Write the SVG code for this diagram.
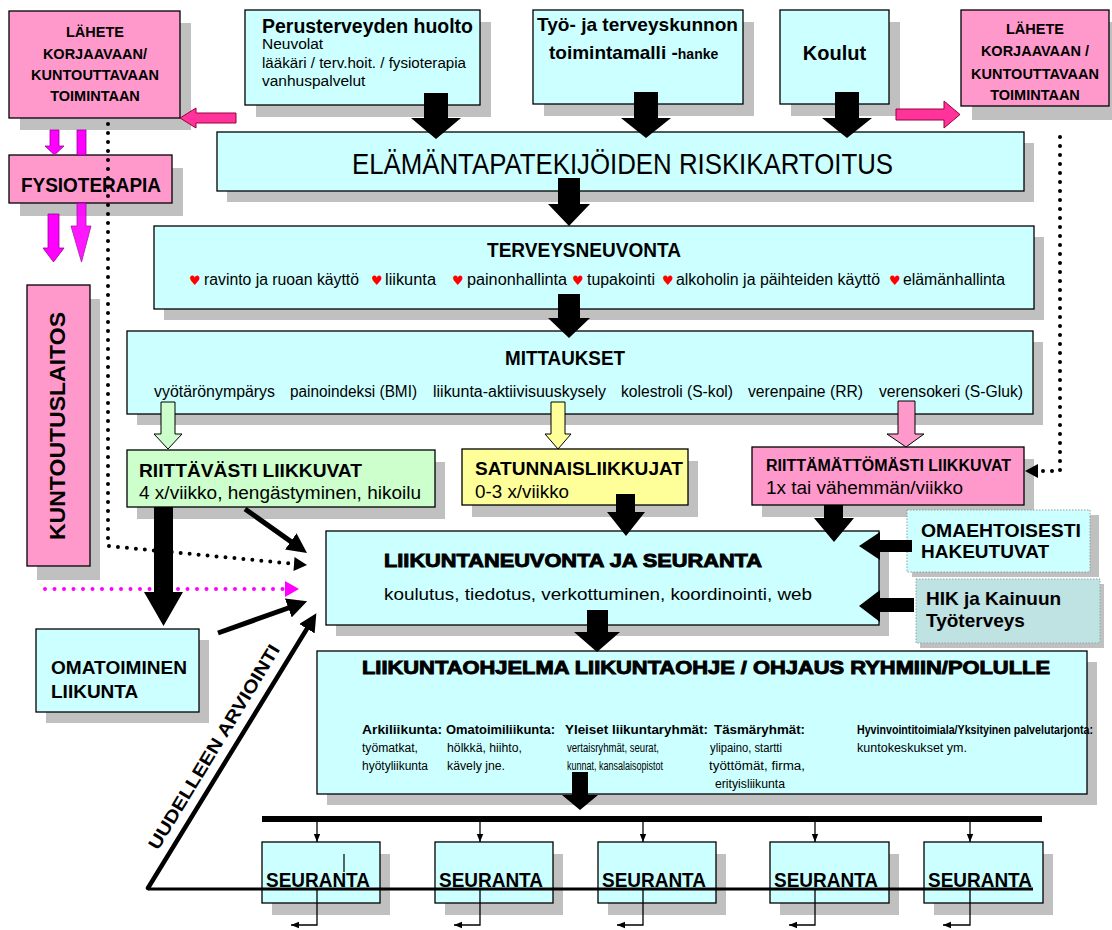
<svg xmlns="http://www.w3.org/2000/svg" width="1112" height="930" viewBox="0 0 1112 930">
<style>
text{font-family:"Liberation Sans",Arial,Helvetica,sans-serif;fill:#000}
.b{font-weight:bold}
.hv{font-weight:bold;stroke:#000;stroke-width:0.9}
.sh{fill:#c0c0c0}
.cy{fill:#ccffff;stroke:#000;stroke-width:1.3}
.pk{fill:#ff99cc;stroke:#000;stroke-width:1.3}
.gr{fill:#ccffcc;stroke:#000;stroke-width:1.3}
.ye{fill:#ffff99;stroke:#000;stroke-width:1.3}
.blk{fill:#000}
.hp{fill:#ff3399;stroke:#99003d;stroke-width:1}
.mg{fill:#ff00ff;stroke:#990099;stroke-width:0.8}
.ga{fill:#ccffcc;stroke:#000;stroke-width:1}
.ya{fill:#ffff99;stroke:#000;stroke-width:1}
.pa{fill:#ff99cc;stroke:#000;stroke-width:1}
.dot{fill:none;stroke:#000;stroke-width:4;stroke-linecap:round;stroke-dasharray:0 9}
.dotm{fill:none;stroke:#ff00ff;stroke-width:4;stroke-linecap:round;stroke-dasharray:0 9.5}
.ht{fill:#ff0000;font-family:"DejaVu Sans",sans-serif;font-size:13px}
.thin{fill:none;stroke:#000;stroke-width:1.3}
</style>
<defs>
<marker id="bh" viewBox="0 0 10 10" refX="6" refY="5" markerWidth="4" markerHeight="4" orient="auto" markerUnits="strokeWidth"><path d="M0,0 L10,5 L0,10 z" fill="#000"/></marker>
<marker id="sm" viewBox="0 0 10 10" refX="10" refY="5" markerWidth="8" markerHeight="8" orient="auto" markerUnits="userSpaceOnUse"><path d="M0,1 L10,5 L0,9 z" fill="#000"/></marker>
</defs>

<!-- nodes -->
<g id="lahete-left">
<rect class="sh" x="20" y="23" width="171" height="107"/>
<rect class="pk" x="9" y="11" width="171" height="107"/>
<text class="b" font-size="14.5" text-anchor="middle"><tspan x="95" y="37">LÄHETE</tspan><tspan x="95" y="59">KORJAAVAAN/</tspan><tspan x="95" y="80">KUNTOUTTAVAAN</tspan><tspan x="95" y="101">TOIMINTAAN</tspan></text>
</g>
<g id="perusterveys">
<rect class="sh" x="256" y="22" width="235" height="95"/>
<rect class="cy" x="245" y="10" width="235" height="95"/>
<text class="b" font-size="20" x="262" y="33" textLength="211" lengthAdjust="spacingAndGlyphs">Perusterveyden huolto</text>
<text font-size="15.5" x="262" y="49">Neuvolat</text>
<text font-size="15.5" x="262" y="68" textLength="204" lengthAdjust="spacingAndGlyphs">lääkäri / terv.hoit. / fysioterapia</text>
<text font-size="15.5" x="262" y="86">vanhuspalvelut</text>
</g>
<g id="tyo-hanke">
<rect class="sh" x="544" y="22" width="210" height="94"/>
<rect class="cy" x="533" y="10" width="210" height="94"/>
<text class="b" font-size="19" x="537" y="31" textLength="201" lengthAdjust="spacingAndGlyphs">Työ- ja terveyskunnon</text>
<text class="b" font-size="19" x="549" y="59">toimintamalli -<tspan font-size="14">hanke</tspan></text>
</g>
<g id="koulut">
<rect class="sh" x="791" y="22" width="109" height="94"/>
<rect class="cy" x="780" y="10" width="109" height="94"/>
<text class="b" font-size="20" x="834.5" y="60" text-anchor="middle">Koulut</text>
</g>
<g id="lahete-right">
<rect class="sh" x="972" y="22" width="148" height="98"/>
<rect class="pk" x="961" y="10" width="148" height="96"/>
<text class="b" font-size="14.5" text-anchor="middle"><tspan x="1035" y="34">LÄHETE</tspan><tspan x="1035" y="56">KORJAAVAAN /</tspan><tspan x="1035" y="79">KUNTOUTTAVAAN</tspan><tspan x="1035" y="100">TOIMINTAAN</tspan></text>
</g>
<g id="fysioterapia">
<rect class="sh" x="20" y="168" width="163" height="48"/>
<rect class="pk" x="9" y="155" width="163" height="48"/>
<text class="b" font-size="21" x="21" y="192" textLength="140" lengthAdjust="spacingAndGlyphs">FYSIOTERAPIA</text>
</g>
<g id="kuntoutuslaitos">
<rect class="sh" x="37" y="299" width="63" height="281"/>
<rect class="pk" x="27" y="285" width="63" height="281"/>
<text class="b" font-size="22" transform="translate(65,540) rotate(-90)" x="0" y="0" textLength="228" lengthAdjust="spacingAndGlyphs">KUNTOUTUSLAITOS</text>
</g>
<g id="riskikartoitus">
<rect class="sh" x="227" y="143" width="807" height="59"/>
<rect class="cy" x="217" y="132" width="807" height="59"/>
<text font-size="30" x="352" y="174" textLength="541" lengthAdjust="spacingAndGlyphs">ELÄMÄNTAPATEKIJÖIDEN RISKIKARTOITUS</text>
</g>
<g id="terveysneuvonta">
<rect class="sh" x="164" y="237" width="880" height="83"/>
<rect class="cy" x="154" y="226" width="880" height="83"/>
<text class="b" font-size="20" x="487" y="257" textLength="194" lengthAdjust="spacingAndGlyphs">TERVEYSNEUVONTA</text>
<text class="ht" x="189" y="285">♥</text>
<text font-size="16" x="204" y="285" textLength="155" lengthAdjust="spacingAndGlyphs">ravinto ja ruoan käyttö</text>
<text class="ht" x="371" y="285">♥</text>
<text font-size="16" x="385" y="285" textLength="51" lengthAdjust="spacingAndGlyphs">liikunta</text>
<text class="ht" x="452" y="285">♥</text>
<text font-size="16" x="467" y="285" textLength="100" lengthAdjust="spacingAndGlyphs">painonhallinta</text>
<text class="ht" x="572" y="285">♥</text>
<text font-size="16" x="587" y="285" textLength="68" lengthAdjust="spacingAndGlyphs">tupakointi</text>
<text class="ht" x="662" y="285">♥</text>
<text font-size="16" x="676" y="285" textLength="204" lengthAdjust="spacingAndGlyphs">alkoholin ja päihteiden käyttö</text>
<text class="ht" x="889" y="285">♥</text>
<text font-size="16" x="903" y="285" textLength="102" lengthAdjust="spacingAndGlyphs">elämänhallinta</text>
</g>
<g id="mittaukset">
<rect class="sh" x="137" y="342" width="906" height="83"/>
<rect class="cy" x="127" y="331" width="906" height="83"/>
<text class="b" font-size="20" x="505" y="365" textLength="120" lengthAdjust="spacingAndGlyphs">MITTAUKSET</text>
<text font-size="16" x="154" y="397" textLength="121" lengthAdjust="spacingAndGlyphs">vyötärönympärys</text>
<text font-size="16" x="290" y="397" textLength="127" lengthAdjust="spacingAndGlyphs">painoindeksi (BMI)</text>
<text font-size="16" x="433" y="397" textLength="173" lengthAdjust="spacingAndGlyphs">liikunta-aktiivisuuskysely</text>
<text font-size="16" x="621" y="397" textLength="112" lengthAdjust="spacingAndGlyphs">kolestroli (S-kol)</text>
<text font-size="16" x="748" y="397" textLength="115" lengthAdjust="spacingAndGlyphs">verenpaine (RR)</text>
<text font-size="16" x="879" y="397" textLength="144" lengthAdjust="spacingAndGlyphs">verensokeri (S-Gluk)</text>
</g>
<g id="riittavasti">
<rect class="sh" x="137" y="462" width="308" height="57"/>
<rect class="gr" x="127" y="450" width="308" height="57"/>
<text class="b" font-size="19" x="139" y="477" textLength="223" lengthAdjust="spacingAndGlyphs">RIITTÄVÄSTI LIIKKUVAT</text>
<text font-size="18" x="139" y="499" textLength="282" lengthAdjust="spacingAndGlyphs">4 x/viikko, hengästyminen, hikoilu</text>
</g>
<g id="satunnais">
<rect class="sh" x="472" y="461" width="226" height="56"/>
<rect class="ye" x="462" y="449" width="226" height="56"/>
<text class="b" font-size="19" x="475" y="475" textLength="208" lengthAdjust="spacingAndGlyphs">SATUNNAISLIIKKUJAT</text>
<text font-size="18" x="475" y="498" textLength="94" lengthAdjust="spacingAndGlyphs">0-3 x/viikko</text>
</g>
<g id="riittamattomasti">
<rect class="sh" x="762" y="459" width="272" height="58"/>
<rect class="pk" x="752" y="447" width="272" height="58"/>
<text class="b" font-size="16" x="766" y="471" textLength="245" lengthAdjust="spacingAndGlyphs">RIITTÄMÄTTÖMÄSTI LIIKKUVAT</text>
<text font-size="18" x="766" y="494" textLength="197" lengthAdjust="spacingAndGlyphs">1x tai  vähemmän/viikko</text>
</g>
<g id="liikuntaneuvonta">
<rect class="sh" x="336" y="542" width="553" height="94"/>
<rect class="cy" x="326" y="531" width="553" height="94"/>
<text class="hv" font-size="19" x="384" y="567" textLength="378" lengthAdjust="spacingAndGlyphs">LIIKUNTANEUVONTA JA SEURANTA</text>
<text font-size="17" x="384" y="600" textLength="428" lengthAdjust="spacingAndGlyphs">koulutus, tiedotus, verkottuminen, koordinointi, web</text>
</g>
<g id="omaehtoisesti">
<rect class="sh" x="912" y="515" width="187" height="62"/>
<rect x="907" y="510" width="183" height="62" fill="#ccffff" stroke="#999" stroke-width="1" stroke-dasharray="1.5 1.5"/>
<text class="b" font-size="19" x="921" y="537" textLength="160" lengthAdjust="spacingAndGlyphs">OMAEHTOISESTI</text>
<text class="b" font-size="19" x="921" y="558">HAKEUTUVAT</text>
</g>
<g id="hik">
<rect class="sh" x="920" y="584" width="184" height="64"/>
<rect x="916" y="579" width="184" height="64" fill="#bfe2e2" stroke="#88aaaa" stroke-width="1" stroke-dasharray="1.5 1.5"/>
<text class="b" font-size="19" x="926" y="605">HIK ja Kainuun</text>
<text class="b" font-size="19" x="926" y="627">Työterveys</text>
</g>
<g id="omatoiminen">
<rect class="sh" x="46" y="640" width="163" height="83"/>
<rect class="cy" x="36" y="629" width="163" height="83"/>
<text class="b" font-size="19" x="51" y="674" textLength="136" lengthAdjust="spacingAndGlyphs">OMATOIMINEN</text>
<text class="b" font-size="19" x="51" y="698">LIIKUNTA</text>
</g>
<g id="liikuntaohjelma">
<rect class="sh" x="327" y="662" width="770" height="143"/>
<rect class="cy" x="317" y="651" width="770" height="143"/>
<text class="hv" font-size="18" x="362" y="674" textLength="688" lengthAdjust="spacingAndGlyphs">LIIKUNTAOHJELMA LIIKUNTAOHJE / OHJAUS RYHMIIN/POLULLE</text>
<g font-size="12">
<text class="b" x="362" y="734" textLength="80" lengthAdjust="spacingAndGlyphs">Arkiliikunta:</text>
<text x="362" y="752" textLength="56" lengthAdjust="spacingAndGlyphs">työmatkat,</text>
<text x="362" y="770" textLength="66" lengthAdjust="spacingAndGlyphs">hyötyliikunta</text>
<text class="b" x="446" y="734" textLength="109" lengthAdjust="spacingAndGlyphs">Omatoimiliikunta:</text>
<text x="447" y="752" textLength="75" lengthAdjust="spacingAndGlyphs">hölkkä, hiihto,</text>
<text x="447" y="770" textLength="58" lengthAdjust="spacingAndGlyphs">kävely jne.</text>
<text class="b" x="565" y="734" textLength="143" lengthAdjust="spacingAndGlyphs">Yleiset liikuntaryhmät:</text>
<text x="567" y="752" textLength="92" lengthAdjust="spacingAndGlyphs">vertaisryhmät, seurat,</text>
<text x="567" y="770" textLength="96" lengthAdjust="spacingAndGlyphs">kunnat, kansalaisopistot</text>
<text class="b" x="714" y="734" textLength="91" lengthAdjust="spacingAndGlyphs">Täsmäryhmät:</text>
<text x="710" y="752" textLength="72" lengthAdjust="spacingAndGlyphs">ylipaino, startti</text>
<text x="709" y="770" textLength="96" lengthAdjust="spacingAndGlyphs">työttömät, firma,</text>
<text x="715" y="788" textLength="70" lengthAdjust="spacingAndGlyphs">erityisliikunta</text>
<text class="b" x="857" y="734" textLength="236" lengthAdjust="spacingAndGlyphs">Hyvinvointitoimiala/Yksityinen palvelutarjonta:</text>
<text x="857" y="752" textLength="110" lengthAdjust="spacingAndGlyphs">kuntokeskukset ym.</text>
</g>
</g>
<g id="seuranta-1">
<rect class="sh" x="272" y="854" width="118" height="61"/>
<rect class="cy" x="262" y="842" width="118" height="61"/>
<text class="b" font-size="21" x="266" y="887" textLength="104" lengthAdjust="spacingAndGlyphs">SEURANTA</text>
<line x1="344" y1="854" x2="344" y2="872" stroke="#000" stroke-width="1.2"/>
</g>
<g id="seuranta-2">
<rect class="sh" x="445" y="854" width="118" height="61"/>
<rect class="cy" x="435" y="842" width="118" height="61"/>
<text class="b" font-size="21" x="439" y="887" textLength="104" lengthAdjust="spacingAndGlyphs">SEURANTA</text>
</g>
<g id="seuranta-3">
<rect class="sh" x="608" y="854" width="118" height="61"/>
<rect class="cy" x="598" y="842" width="118" height="61"/>
<text class="b" font-size="21" x="602" y="887" textLength="104" lengthAdjust="spacingAndGlyphs">SEURANTA</text>
</g>
<g id="seuranta-4">
<rect class="sh" x="780" y="854" width="119" height="61"/>
<rect class="cy" x="770" y="842" width="119" height="61"/>
<text class="b" font-size="21" x="774" y="887" textLength="104" lengthAdjust="spacingAndGlyphs">SEURANTA</text>
</g>
<g id="seuranta-5">
<rect class="sh" x="934" y="854" width="119" height="61"/>
<rect class="cy" x="924" y="842" width="119" height="61"/>
<text class="b" font-size="21" x="928" y="887" textLength="104" lengthAdjust="spacingAndGlyphs">SEURANTA</text>
</g>

<!-- connectors -->
<g id="connectors">
<polygon class="hp" points="236,113 196,113 196,108 180,118 196,128 196,123 236,123"/>
<polygon class="hp" points="896,109 944,109 944,101 960,114.5 944,128 944,120 896,120"/>
<polygon class="mg" points="50,130 59,130 59,146 64,146 54.5,155 45,146 50,146"/>
<rect class="mg" x="77" y="130" width="9" height="25"/>
<polygon class="mg" points="77,203 86,203 86,226 91,226 81.5,262 71,226 77,226" opacity="0.9"/>
<polygon class="mg" points="48,214 59,214 59,248 64,248 53.5,262 43,248 48,248"/>
<path class="dot" d="M108,124 V546 L296,564"/>
<polygon fill="#000" points="307,565 294.5,557 293.5,571"/>
<path class="dotm" d="M45,589 H287"/>
<polygon fill="#ff00ff" points="299,589 285,581 285,597"/>
<path class="dot" d="M1060,137 V471 H1036"/>
<polygon fill="#000" points="1025,471 1038,464 1038,478"/>
<polygon class="blk" points="424,93 448,93 448,118 461,118 436,139 411,118 424,118"/>
<polygon class="blk" points="634,92 658,92 658,118 671,118 646,138 621,118 634,118"/>
<polygon class="blk" points="835,92 859,92 859,118 872,118 847,138 822,118 835,118"/>
<polygon class="blk" points="558,178 580,178 580,204 590,204 569,226 548,204 558,204"/>
<polygon class="blk" points="558,294 580,294 580,318 590,318 569,338 548,318 558,318"/>
<polygon class="ga" points="161,402 175,402 175,434 182,434 168,449 154,434 161,434"/>
<polygon class="ya" points="551,402 565,402 565,434 571,434 558,449 545,434 551,434"/>
<polygon class="pa" points="898,401 915,401 915,434 924,434 906,447 887,434 898,434"/>
<polygon class="blk" points="154,507 173,507 173,592 183,592 163.5,626 144,592 154,592"/>
<polygon class="blk" points="616,494 635,494 635,512 645,512 626,536 607,512 616,512"/>
<polygon class="blk" points="824,505 843,505 843,518 854,518 834,542 814,518 824,518"/>
<polygon class="blk" points="912,540 880,540 880,532 859,546 880,560 880,552 912,552"/>
<polygon class="blk" points="914,598 880,598 880,590 859,606 880,622 880,612 914,612"/>
<polygon class="blk" points="587,610 608,610 608,632 620,632 597,652 574,632 587,632"/>
<polygon class="blk" points="572,772 588,772 588,795 598,795 580,810 562,795 572,795"/>
<line x1="245" y1="509" x2="300.5" y2="548.4" stroke="#000" stroke-width="5" marker-end="url(#bh)"/>
<line x1="218" y1="633" x2="299.6" y2="604" stroke="#000" stroke-width="5" marker-end="url(#bh)"/>
<line x1="148" y1="888" x2="312.6" y2="619.5" stroke="#000" stroke-width="4.5" stroke-linecap="round" marker-end="url(#bh)"/>
<line x1="148" y1="889" x2="1033" y2="889" stroke="#000" stroke-width="3"/>
<rect x="262" y="816" width="780" height="6" fill="#000"/>
<line class="thin" x1="317" y1="822" x2="317" y2="842" marker-end="url(#sm)"/>
<line class="thin" x1="480" y1="822" x2="480" y2="842" marker-end="url(#sm)"/>
<line class="thin" x1="643" y1="822" x2="643" y2="842" marker-end="url(#sm)"/>
<line class="thin" x1="815" y1="822" x2="815" y2="842" marker-end="url(#sm)"/>
<line class="thin" x1="970" y1="822" x2="970" y2="842" marker-end="url(#sm)"/>
<path class="thin" d="M317,889 V925 H291" marker-end="url(#sm)"/>
<path class="thin" d="M480,889 V925 H454" marker-end="url(#sm)"/>
<path class="thin" d="M643,889 V925 H617" marker-end="url(#sm)"/>
<path class="thin" d="M815,889 V925 H789" marker-end="url(#sm)"/>
<path class="thin" d="M970,889 V925 H943" marker-end="url(#sm)"/>
<text class="b" font-size="18" transform="translate(158,851) rotate(-58.7)" x="0" y="0" textLength="236" lengthAdjust="spacingAndGlyphs">UUDELLEEN ARVIOINTI</text>
</g>
</svg>
